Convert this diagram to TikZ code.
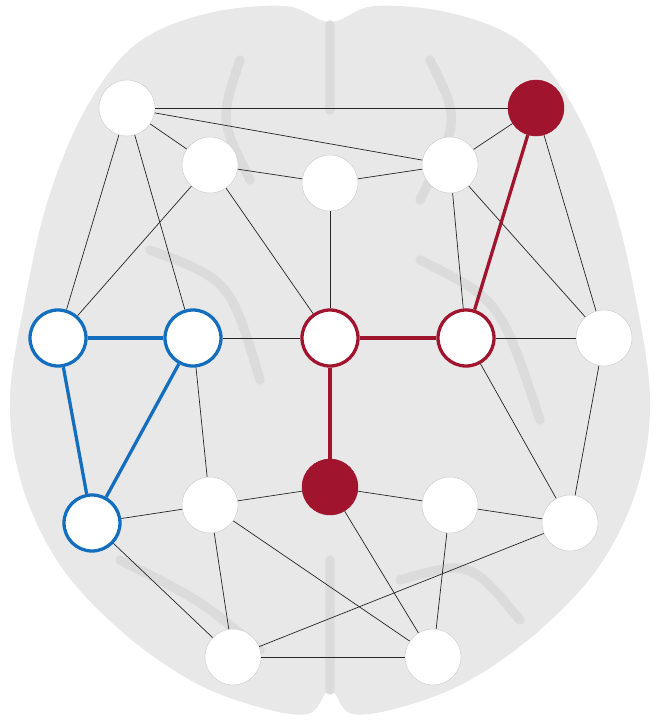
\documentclass[tikz,border=0pt]{standalone}
\usepackage{tikz}

\definecolor{netred}{RGB}{160,20,45}
\definecolor{netblue}{RGB}{20,110,190}

\tikzset{
  hub/.style={circle, draw=gray!40, fill=white, minimum size=1.68cm, inner sep=0pt},
  bluehub/.style={hub, draw=netblue, line width=2.8pt},
  redring/.style={hub, draw=netred, line width=2.8pt},
  redhub/.style={hub, draw=netred, fill=netred},
  link/.style={black!85, line width=0.6pt},
  bluelink/.style={netblue, line width=2.8pt},
  redlink/.style={netred, line width=2.8pt},
}

\begin{document}
\begin{tikzpicture}[x=0.03cm, y=-0.03cm]
    \useasboundingbox (0,0) rectangle (659,724);
    % brain silhouette
    \fill[gray!18] plot[smooth cycle, tension=0.6] coordinates {
      (330,22) (285,6) (205,14) (135,45) (85,110) (48,200) (25,300) (10,400)
      (22,485) (60,565) (120,630) (190,680) (255,706) (308,714) (330,690)
      (352,714) (405,706) (470,680) (540,630) (600,565) (638,485) (650,400)
      (636,300) (612,200) (575,110) (525,45) (455,14) (375,6)};
    \draw[gray!28, line width=8pt, line cap=round]
      (330,25) -- (330,110) (150,250) .. controls (230,280) .. (260,380)
      (420,260) .. controls (500,300) .. (540,420)
      (120,560) .. controls (200,600) .. (260,650)
      (400,580) .. controls (470,560) .. (520,620)
      (330,560) -- (330,690) (240,60) .. controls (220,120) .. (250,180)
      (430,60) .. controls (460,120) .. (420,200);
    % nodes
    \node[hub] (A) at (127,108) {};
    \node[hub] (B) at (210,165) {};
    \node[hub] (C) at (330,183) {};
    \node[hub] (D) at (450,165) {};
    \node[redhub] (E) at (536,108) {};
    \node[bluehub] (F) at (58,338) {};
    \node[bluehub] (G) at (193,338) {};
    \node[redring] (H) at (330,338) {};
    \node[redring] (I) at (466,338) {};
    \node[hub] (J) at (604,338) {};
    \node[bluehub] (K) at (92,523) {};
    \node[hub] (L) at (210,505) {};
    \node[redhub] (M) at (330,487) {};
    \node[hub] (N) at (450,505) {};
    \node[hub] (O) at (570,523) {};
    \node[hub] (P) at (233,657) {};
    \node[hub] (Q) at (433,657) {};
    % plain links
    \foreach \u/\v in {A/E, A/D, A/B, A/F, A/G, B/C, C/D, D/E, B/F, B/H,
                       C/H, D/I, D/J, E/J, G/H, I/J, G/L, I/O, J/O, K/L,
                       L/M, M/N, N/O, K/P, L/P, L/Q, M/Q, N/Q, O/P, P/Q}
      \draw[link] (\u) -- (\v);
    % highlighted links
    \draw[bluelink] (F) -- (G);
    \draw[bluelink] (F) -- (K);
    \draw[bluelink] (G) -- (K);
    \draw[redlink] (E) -- (I);
    \draw[redlink] (H) -- (I);
    \draw[redlink] (H) -- (M);
\end{tikzpicture}
\end{document}
